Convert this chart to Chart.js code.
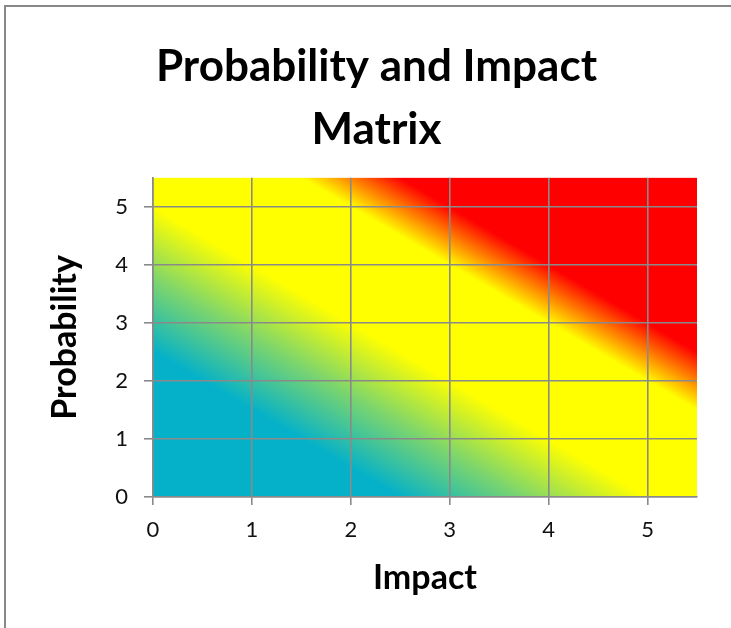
<!DOCTYPE html>
<html>
<head>
<meta charset="utf-8">
<title>Probability and Impact Matrix</title>
<script src="https://cdn.jsdelivr.net/npm/chart.js@4.4.1/dist/chart.umd.min.js"></script>
<style>
  html, body { margin: 0; padding: 0; background: #fff; overflow: hidden; }
  #wrap { position: relative; width: 731px; height: 628px; overflow: hidden; }
  .edge { position: absolute; background: #888; }
  #edgeTop { left: 4px; top: 5px; width: 727px; height: 1.5px; }
  #edgeLeft { left: 4px; top: 5px; width: 1.5px; height: 623px; }
  #chart { position: absolute; left: 0; top: 0; }
</style>
</head>
<body>
<div id="wrap">
  <div class="edge" id="edgeTop"></div>
  <div class="edge" id="edgeLeft"></div>
  <canvas id="chart" width="731" height="628"></canvas>
</div>
<script>
// Axis ranges and tick labels
const impactTicks = [0, 1, 2, 3, 4, 5];
const probabilityTicks = [0, 1, 2, 3, 4, 5];
const axisMin = 0;
const axisMax = 5.5;

// Risk colour scale, keyed by score = impact + probability
const riskLevels = [0, 2.5, 3.75, 5, 7, 8, 11];
const riskColors = ['#04b1c9', '#04b1c9', '#7cd56d', '#ffff00', '#ffff00', '#ff0000', '#ff0000'];

// Fills the plot area with the risk colour scale; contours follow impact + probability = const
const riskFill = {
  id: 'riskFill',
  beforeDraw(chart) {
    const {ctx, chartArea: a, scales: {x, y}} = chart;
    const x0 = x.getPixelForValue(0), y0 = y.getPixelForValue(0);
    const kx = x.getPixelForValue(1) - x0;
    const ky = y0 - y.getPixelForValue(1);
    const gx = 1 / kx, gy = -1 / ky;
    const g2 = gx * gx + gy * gy;
    const sMax = riskLevels[riskLevels.length - 1];
    const grad = ctx.createLinearGradient(x0, y0, x0 + sMax * gx / g2, y0 + sMax * gy / g2);
    riskLevels.forEach((s, i) => grad.addColorStop(s / sMax, riskColors[i]));
    ctx.save();
    ctx.fillStyle = grad;
    ctx.fillRect(a.left, a.top, a.right - a.left, a.bottom - a.top);
    ctx.restore();
  }
};

Chart.defaults.font.family = 'Lato, "Open Sans", sans-serif';
Chart.defaults.color = '#000';

const gridColor = '#8a8a8a';

new Chart(document.getElementById('chart'), {
  type: 'scatter',
  data: { datasets: [] },
  options: {
    responsive: false,
    devicePixelRatio: 1,
    animation: false,
    layout: { padding: { left: 56, right: 34, top: 0, bottom: 0 } },
    plugins: {
      legend: { display: false },
      tooltip: { enabled: false },
      title: {
        display: true,
        text: ['Probability and Impact', 'Matrix'],
        color: '#000',
        font: { size: 44, weight: 'bold', lineHeight: 1.43 },
        padding: { top: 35, bottom: 17 }
      }
    },
    scales: {
      x: {
        type: 'linear',
        min: axisMin,
        max: axisMax,
        afterFit(scale) { scale.height = 131; },
        afterBuildTicks(scale) { scale.ticks = impactTicks.map(v => ({ value: v })); },
        ticks: {
          stepSize: 1,
          includeBounds: false,
          maxRotation: 0,
          padding: 12,
          color: '#111',
          font: { size: 22 }
        },
        grid: { color: gridColor, lineWidth: 1.6, tickLength: 8, drawTicks: true },
        border: { color: gridColor, width: 1.6 },
        title: {
          display: true,
          text: 'Impact',
          color: '#000',
          font: { size: 34, weight: 'bold', lineHeight: 1.2 },
          padding: { top: 0, bottom: 29.6 }
        }
      },
      y: {
        type: 'linear',
        min: axisMin,
        max: axisMax,
        afterFit(scale) { scale.width = 97; },
        afterBuildTicks(scale) { scale.ticks = probabilityTicks.map(v => ({ value: v })); },
        ticks: {
          stepSize: 1,
          includeBounds: false,
          padding: 16,
          color: '#111',
          font: { size: 22 }
        },
        grid: { color: gridColor, lineWidth: 1.6, tickLength: 9, drawTicks: true },
        border: { color: gridColor, width: 1.6 },
        title: {
          display: true,
          text: 'Probability',
          color: '#000',
          font: { size: 34, weight: 'bold', lineHeight: 1.2 },
          padding: { top: -11.4, bottom: 0 }
        }
      }
    }
  },
  plugins: [riskFill]
});
</script>
</body>
</html>
